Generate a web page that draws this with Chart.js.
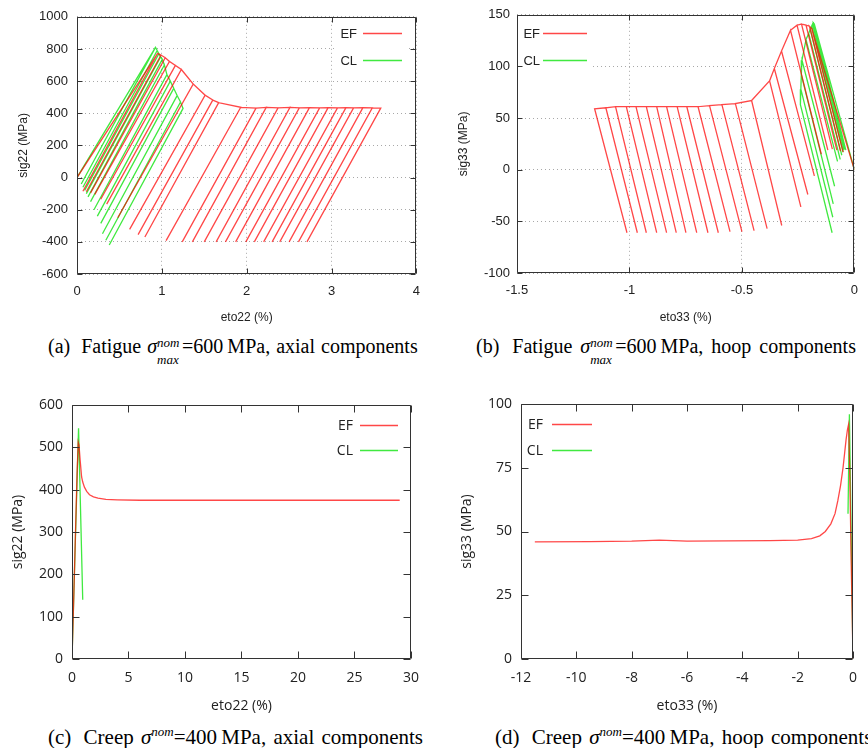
<!DOCTYPE html>
<html>
<head>
<meta charset="utf-8">
<script src="https://cdn.jsdelivr.net/npm/chart.js@4"></script>
<style>
  body { margin: 0; background: #fff; width: 868px; height: 748px; overflow: hidden; position: relative; }
  canvas { position: absolute; }
  .cap { position: absolute; font-family: "Liberation Serif", serif; font-size: 20px; line-height: 24px; white-space: nowrap; color: #000; }
  .lb { margin-right: 5px; }
  .st { position: relative; display: inline-block; width: 25px; height: 10px; font-size: 13px; font-style: italic; }
  .st .n { position: absolute; left: 0; top: -12px; }
  .st .m { position: absolute; left: 0; top: 5px; }
  .sp { position: relative; top: -8px; font-size: 13px; font-style: italic; }
</style>
</head>
<body>
<canvas id="chartA" width="430" height="330" style="left:0;top:0"></canvas>
<canvas id="chartB" width="438" height="330" style="left:430px;top:0"></canvas>
<canvas id="chartC" width="430" height="340" style="left:0;top:380px"></canvas>
<canvas id="chartD" width="438" height="340" style="left:430px;top:380px"></canvas>

<div class="cap" style="left:48px;top:334px;word-spacing:1px"><span class="lb">(a)</span> Fatigue <i>σ</i><span class="st"><span class="n">nom</span><span class="m">max</span></span>=600&thinsp;MPa, axial components</div>
<div class="cap" style="left:476px;top:334px;word-spacing:3px"><span class="lb">(b)</span> Fatigue <i>σ</i><span class="st"><span class="n">nom</span><span class="m">max</span></span>=600&thinsp;MPa, hoop components</div>
<div class="cap" style="left:48px;top:725px;font-size:21px;word-spacing:2px"><span class="lb">(c)</span> Creep <i>σ</i><span class="sp">nom</span>=400&thinsp;MPa, axial components</div>
<div class="cap" style="left:495px;top:725px;font-size:21px;word-spacing:2px"><span class="lb">(d)</span> Creep <i>σ</i><span class="sp">nom</span>=400&thinsp;MPa, hoop components</div>

<script>
// (a) fatigue, axial: top and bottom of each cycle
const efA_topX = [0.95, 0.99, 1.04, 1.09, 1.16, 1.23, 1.37, 1.51, 1.60, 1.67, 1.93, 2.11, 2.23, 2.37, 2.51, 2.62, 2.74, 2.86, 2.96, 3.07, 3.17, 3.26, 3.37, 3.48, 3.58];
const efA_topY = [772, 762, 745, 722, 698, 672, 582, 512, 482, 466, 437, 432, 436, 434, 436, 433, 435, 434, 435, 433, 435, 434, 435, 433, 432];
const efA_lowX = [0.07, 0.11, 0.16, 0.21, 0.28, 0.35, 0.48, 0.62, 0.72, 0.80, 1.05, 1.24, 1.36, 1.50, 1.64, 1.75, 1.87, 1.99, 2.09, 2.20, 2.30, 2.39, 2.50, 2.61, 2.71];
const efA_lowY = [-85, -88, -95, -105, -135, -165, -250, -322, -355, -370, -392, -400, -400, -400, -400, -400, -400, -400, -400, -400, -400, -400, -400, -400, -400];

const clA_topX = [0.925, 0.945, 0.965, 0.985, 1.005, 1.03, 1.06, 1.10, 1.14, 1.18, 1.22, 1.25];
const clA_topY = [810, 790, 770, 750, 735, 700, 640, 600, 555, 510, 470, 430];
const clA_lowX = [0.05, 0.07, 0.09, 0.11, 0.13, 0.16, 0.20, 0.24, 0.28, 0.30, 0.34, 0.38];
const clA_lowY = [-40, -60, -80, -100, -120, -150, -200, -240, -285, -350, -390, -420];

// (b) fatigue, hoop
const efB_topX = [-0.19, -0.20, -0.215, -0.235, -0.255, -0.284, -0.324, -0.356, -0.377, -0.457, -0.529, -0.589, -0.644, -0.695, -0.745, -0.788, -0.835, -0.879, -0.925, -0.971, -1.014, -1.062, -1.105, -1.155];
const efB_topY = [137, 139, 140, 141, 140, 135, 115, 98, 86, 67, 64, 63, 62, 61, 61, 61, 61, 61, 61, 61, 61, 61, 60, 59];
const efB_lowX = [-0.05, -0.062, -0.078, -0.098, -0.118, -0.147, -0.178, -0.207, -0.238, -0.323, -0.388, -0.446, -0.500, -0.553, -0.605, -0.651, -0.701, -0.749, -0.792, -0.835, -0.879, -0.925, -0.965, -1.011];
const efB_lowY = [17, 18, 19, 20, 19, 15, -6, -24, -36, -54, -57, -59, -60, -60, -61, -61, -61, -61, -61, -61, -61, -61, -61, -61];

const clB_topX = [-0.178, -0.182, -0.186, -0.19, -0.196, -0.203, -0.215, -0.233, -0.236, -0.238, -0.240];
const clB_topY = [141, 142, 141, 139, 136, 132, 126, 106, 92, 78, 63];
const clB_lowX = [-0.038, -0.042, -0.046, -0.05, -0.056, -0.063, -0.075, -0.088, -0.094, -0.096, -0.099];
const clB_lowY = [19, 20, 19, 17, 14, 10, 8, -16, -33, -46, -61];

// (c) creep, axial
const efC_x = [0, 0.15, 0.3, 0.45, 0.55, 0.62, 0.72, 0.85, 0.95, 1.1, 1.3, 1.55, 1.9, 2.3, 3.0, 4.0, 6, 10, 15, 20, 25, 29];
const efC_y = [0, 140, 290, 440, 512, 505, 470, 430, 418, 406, 396, 388, 383, 380, 377, 376, 375, 375, 375, 375, 375, 375];
const clC_x = [0, 0.58, 0.95];
const clC_y = [0, 545, 140];

// (d) creep, hoop
const efD_x = [0, -0.06, -0.12, -0.16, -0.2, -0.25, -0.3, -0.36, -0.45, -0.55, -0.65, -0.8, -1.0, -1.2, -1.5, -2.0, -3.0, -4.5, -6.0, -7.0, -8.0, -9.5, -11.5];
const efD_y = [0, 35, 75, 92, 90, 86, 81, 75, 68, 62, 57, 53, 50, 48.3, 47.2, 46.6, 46.4, 46.3, 46.2, 46.6, 46.2, 46.0, 45.9];
const clD_x = [0, -0.13, -0.18];
const clD_y = [0, 96, 57];

const RED = 'rgba(255,0,0,0.72)';
const GREEN = 'rgba(0,225,0,0.75)';

// load from 0, then each cycle: top -> bottom -> back to top
function cyclePath(topX, topY, lowX, lowY) {
    const pts = [{ x: 0, y: 0 }];
    for (let i = 0; i < topX.length; i++) {
        pts.push({ x: topX[i], y: topY[i] });
        pts.push({ x: lowX[i], y: lowY[i] });
        pts.push({ x: topX[i], y: topY[i] });
    }
    return pts;
}

function pairs(xs, ys) {
    return xs.map((x, i) => ({ x: x, y: ys[i] }));
}

// gnuplot-like frame with inward ticks on all four sides
function framePlugin(len) {
    return {
        id: 'frame',
        afterDatasetsDraw(chart) {
            const { ctx, chartArea: a } = chart;
            const sx = chart.scales.x, sy = chart.scales.y;
            const L = Math.round(a.left) + 0.5, R = Math.round(a.right) - 0.5;
            const T = Math.round(a.top) + 0.5, B = Math.round(a.bottom) - 0.5;
            ctx.save();
            ctx.strokeStyle = '#333';
            ctx.lineWidth = 1;
            ctx.beginPath();
            sx.ticks.forEach(t => {
                const p = Math.round(sx.getPixelForValue(t.value)) + 0.5;
                ctx.moveTo(p, B); ctx.lineTo(p, B - len);
                ctx.moveTo(p, T); ctx.lineTo(p, T + len);
            });
            sy.ticks.forEach(t => {
                const p = Math.round(sy.getPixelForValue(t.value)) + 0.5;
                ctx.moveTo(L, p); ctx.lineTo(L + len, p);
                ctx.moveTo(R, p); ctx.lineTo(R - len, p);
            });
            ctx.rect(L, T, R - L, B - T);
            ctx.stroke();
            ctx.restore();
        }
    };
}

// key: label right-aligned, then a line sample
function keyPlugin(k) {
    return {
        id: 'key',
        beforeDatasetsDraw(chart) {
            if (!k.box) return;
            chart.ctx.save();
            chart.ctx.fillStyle = '#fff';
            chart.ctx.fillRect(k.box[0], k.box[1], k.box[2], k.box[3]);
            chart.ctx.restore();
        },
        afterDatasetsDraw(chart) {
            const ctx = chart.ctx;
            ctx.save();
            ctx.font = k.font;
            ctx.textAlign = 'right';
            ctx.textBaseline = 'middle';
            ctx.fillStyle = '#222';
            chart.data.datasets.forEach((ds, i) => {
                const yy = k.rows[i];
                ctx.fillText(ds.label, k.textX, yy + 1);
                ctx.strokeStyle = ds.borderColor;
                ctx.lineWidth = 1.5;
                ctx.beginPath();
                ctx.moveTo(k.x0, yy + 0.5);
                ctx.lineTo(k.x1, yy + 0.5);
                ctx.stroke();
            });
            ctx.restore();
        }
    };
}

function axis(o) {
    return {
        type: 'linear',
        min: o.min,
        max: o.max,
        afterFit: s => { if (s.isHorizontal()) s.height = o.size; else s.width = o.size; },
        ticks: {
            stepSize: o.step, autoSkip: false, maxRotation: 0, padding: o.pad,
            color: '#222', font: o.font,
            callback: v => String(Math.round(v * 100) / 100)
        },
        grid: { display: o.grid, drawTicks: false, color: '#a8a8a8', lineWidth: 1 },
        border: { display: false, dash: [1, 3] },
        title: { display: true, text: o.title, color: '#222', font: o.tfont, padding: o.tpad }
    };
}

function makeChart(id, c) {
    return new Chart(document.getElementById(id), {
        type: 'scatter',
        data: {
            datasets: [
                { label: 'EF', data: c.ef, borderColor: RED, borderWidth: 1.3, showLine: true, pointRadius: 0, tension: 0 },
                { label: 'CL', data: c.cl, borderColor: GREEN, borderWidth: 1.3, showLine: true, pointRadius: 0, tension: 0 }
            ]
        },
        options: {
            responsive: false,
            animation: false,
            layout: { padding: c.pad },
            plugins: { legend: { display: false }, tooltip: { enabled: false } },
            scales: { x: c.x, y: c.y }
        },
        plugins: [framePlugin(c.tick), keyPlugin(c.key)]
    });
}

const fSmall = { family: 'Liberation Sans', size: 13 };
const fTitleS = { family: 'Liberation Sans', size: 12 };
const fBig = { family: 'Open Sans', size: 14 };

makeChart('chartA', {
    ef: cyclePath(efA_topX, efA_topY, efA_lowX, efA_lowY),
    cl: cyclePath(clA_topX, clA_topY, clA_lowX, clA_lowY),
    pad: { top: 14, right: 13, left: 0, bottom: 0 },
    tick: 5,
    x: axis({ min: 0, max: 4, step: 1, size: 56, pad: 10, grid: true, font: fSmall, title: 'eto22 (%)', tfont: fTitleS, tpad: { top: 0, bottom: 5 } }),
    y: axis({ min: -600, max: 1000, step: 200, size: 77, pad: 9, grid: true, font: fSmall, title: 'sig22 (MPa)', tfont: fTitleS, tpad: { top: 16, bottom: 0 } }),
    key: { font: '13px "Liberation Sans"', textX: 357, x0: 363, x1: 402, rows: [33, 60], box: [336, 22, 72, 50] }
});

makeChart('chartB', {
    ef: cyclePath(efB_topX, efB_topY, efB_lowX, efB_lowY),
    cl: cyclePath(clB_topX, clB_topY, clB_lowX, clB_lowY),
    pad: { top: 14, right: 4, left: 0, bottom: 0 },
    tick: 5,
    x: axis({ min: -1.5, max: 0, step: 0.5, size: 57, pad: 10, grid: true, font: fSmall, title: 'eto33 (%)', tfont: fTitleS, tpad: { top: 0, bottom: 5 } }),
    y: axis({ min: -100, max: 150, step: 50, size: 87, pad: 7, grid: true, font: fSmall, title: 'sig33 (MPa)', tfont: fTitleS, tpad: { top: 26, bottom: 0 } }),
    key: { font: '13px "Liberation Sans"', textX: 110, x0: 113, x1: 157, rows: [33, 60], box: [88, 15, 72, 57] }
});

makeChart('chartC', {
    ef: pairs(efC_x, efC_y),
    cl: pairs(clC_x, clC_y),
    pad: { top: 25, right: 15, left: 0, bottom: 0 },
    tick: 7,
    x: axis({ min: 0, max: 30, step: 5, size: 61, pad: 11, grid: false, font: fBig, title: 'eto22 (%)', tfont: fBig, tpad: { top: 0, bottom: 6 } }),
    y: axis({ min: 0, max: 600, step: 100, size: 72, pad: 9, grid: false, font: fBig, title: 'sig22 (MPa)', tfont: fBig, tpad: { top: 10, bottom: 0 } }),
    key: { font: '14px "Open Sans"', textX: 353, x0: 360, x1: 398, rows: [45, 70], box: null }
});

makeChart('chartD', {
    ef: pairs(efD_x, efD_y),
    cl: pairs(clD_x, clD_y),
    pad: { top: 24, right: 4, left: 0, bottom: 0 },
    tick: 7,
    x: axis({ min: -12, max: 0, step: 2, size: 61, pad: 11, grid: false, font: fBig, title: 'eto33 (%)', tfont: fBig, tpad: { top: 0, bottom: 6 } }),
    y: axis({ min: 0, max: 100, step: 25, size: 91, pad: 9, grid: false, font: fBig, title: 'sig33 (MPa)', tfont: fBig, tpad: { top: 29, bottom: 0 } }),
    key: { font: '14px "Open Sans"', textX: 113, x0: 122, x1: 162, rows: [44, 70], box: null }
});
</script>
</body>
</html>
